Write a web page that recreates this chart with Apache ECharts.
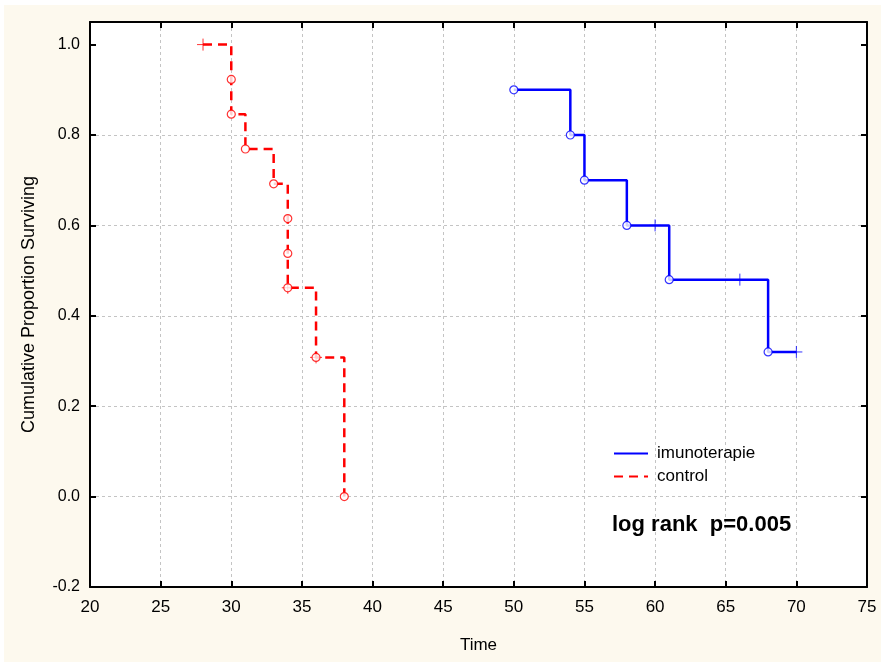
<!DOCTYPE html>
<html>
<head>
<meta charset="utf-8">
<script src="https://cdn.jsdelivr.net/npm/echarts@6/dist/echarts.min.js"></script>
<style>
  html, body { margin: 0; padding: 0; background: #ffffff; }
  #frame { position: absolute; left: 4px; top: 5px; width: 877px; height: 657px; background: #fdf9ee; }
  #chart { position: absolute; left: 0; top: 0; width: 881px; height: 662px; }
</style>
</head>
<body>
<div id="frame"></div>
<div id="chart"></div>
<script>
// Kaplan-Meier survival curves: step points (time, cumulative proportion surviving)
const imunoStepX = [50, 54, 55, 58, 61, 68, 70];
const imunoStepY = [0.9, 0.8, 0.7, 0.6, 0.48, 0.32, 0.32];
// complete (death) observations drawn as open circles
const imunoEventX = [50, 54, 55, 58, 61, 68];
const imunoEventY = [0.9, 0.8, 0.7, 0.6, 0.48, 0.32];
// censored observations drawn as crosses
const imunoCensX = [60, 66, 70];
const imunoCensY = [0.6, 0.48, 0.32];

const controlStepX = [28, 30, 31, 33, 34, 36, 38];
const controlStepY = [1.0, 0.846, 0.769, 0.692, 0.462, 0.308, 0.0];
const controlEventX = [30, 30, 31, 33, 34, 34, 34, 36, 38];
const controlEventY = [0.923, 0.846, 0.769, 0.692, 0.615, 0.538, 0.462, 0.308, 0.0];
const controlCensX = [28, 34, 36];
const controlCensY = [1.0, 0.462, 0.308];

const xTicks = { min: 20, max: 75, interval: 5 };
const yTicks = { min: -0.2, max: 1.05, interval: 0.2 };
const yTickValues = [-0.2, 0, 0.2, 0.4, 0.6, 0.8, 1.0];

const BLUE = '#0000ff';
const RED = '#ff0000';
const FONT = '"Liberation Sans", Arial, sans-serif';

const zip = (xs, ys) => xs.map((x, i) => [x, ys[i]]);
const crossPath = 'path://M6,0 L6,12 M0,6 L12,6';

const frameLine = { show: true, onZero: false, lineStyle: { color: '#000', width: 2 } };
const innerTick = { show: true, inside: true, length: 6, lineStyle: { color: '#000', width: 2 } };
const gridLine = {
  show: true, showMinLine: false, showMaxLine: false,
  lineStyle: { color: '#c4c4c4', type: [3, 3], width: 1 }
};

const chart = echarts.init(document.getElementById('chart'), null, { renderer: 'canvas' });

chart.setOption({
  backgroundColor: 'transparent',
  animation: false,
  grid: {
    left: 90, top: 22, width: 777, height: 565,
    show: true, borderWidth: 0, backgroundColor: '#ffffff'
  },
  xAxis: [
    {
      type: 'value', min: xTicks.min, max: xTicks.max, interval: xTicks.interval,
      name: 'Time', nameLocation: 'middle', nameGap: 50,
      nameTextStyle: { fontFamily: FONT, fontSize: 17, color: '#000' },
      axisLine: frameLine,
      axisTick: innerTick,
      axisLabel: { fontFamily: FONT, fontSize: 17, color: '#000', margin: 12 },
      splitLine: gridLine
    },
    {
      type: 'value', position: 'top', min: xTicks.min, max: xTicks.max, interval: xTicks.interval,
      axisLine: frameLine, axisTick: innerTick, axisLabel: { show: false }, splitLine: { show: false }
    }
  ],
  yAxis: [
    {
      type: 'value', min: yTicks.min, max: yTicks.max, interval: yTicks.interval,
      name: 'Cumulative Proportion Surviving', nameLocation: 'middle', nameGap: 52,
      nameTextStyle: { fontFamily: FONT, fontSize: 18, color: '#000' },
      axisLine: frameLine,
      axisTick: Object.assign({ customValues: yTickValues }, innerTick),
      axisLabel: {
        fontFamily: FONT, fontSize: 16, color: '#000', margin: 10,
        customValues: yTickValues, formatter: v => v.toFixed(1)
      },
      splitLine: gridLine
    },
    {
      type: 'value', position: 'right', min: yTicks.min, max: yTicks.max, interval: yTicks.interval,
      axisLine: frameLine,
      axisTick: Object.assign({ customValues: yTickValues }, innerTick),
      axisLabel: { show: false }, splitLine: { show: false }
    }
  ],
  legend: {
    orient: 'vertical', left: 608, top: 440, itemWidth: 34, itemHeight: 14, itemGap: 6,
    itemStyle: { opacity: 0 },
    textStyle: { fontFamily: FONT, fontSize: 17, lineHeight: 14, color: '#000', padding: [0, 0, 0, 4] },
    data: ['imunoterapie', 'control']
  },
  graphic: [{
    type: 'text', x: 612, y: 525, z: 10,
    style: {
      text: 'log rank  p=0.005', font: 'bold 22px "Liberation Sans", Arial, sans-serif',
      fill: '#000', verticalAlign: 'middle'
    }
  }],
  series: [
    {
      name: 'imunoterapie', type: 'line', step: 'end', symbol: 'none',
      data: zip(imunoStepX, imunoStepY),
      lineStyle: { color: BLUE, width: 2.5 }, itemStyle: { color: BLUE }, z: 2
    },
    {
      name: 'control', type: 'line', step: 'end', symbol: 'none',
      data: zip(controlStepX, controlStepY),
      lineStyle: { color: RED, width: 2.5, type: [9, 6] }, itemStyle: { color: RED }, z: 2
    },
    {
      type: 'scatter', symbol: 'circle', symbolSize: 8, data: zip(imunoEventX, imunoEventY),
      itemStyle: { color: '#fff', borderColor: BLUE, borderWidth: 1.2 }, z: 4
    },
    {
      type: 'scatter', symbol: crossPath, symbolSize: 12, data: zip(imunoCensX, imunoCensY),
      itemStyle: { color: 'none', borderColor: BLUE, borderWidth: 1 }, z: 4
    },
    {
      type: 'scatter', symbol: 'circle', symbolSize: 8, data: zip(controlEventX, controlEventY),
      itemStyle: { color: '#fff', borderColor: RED, borderWidth: 1.2 }, z: 4
    },
    {
      type: 'scatter', symbol: crossPath, symbolSize: 12, data: zip(controlCensX, controlCensY),
      itemStyle: { color: 'none', borderColor: RED, borderWidth: 1 }, z: 3
    }
  ]
});
</script>
</body>
</html>
